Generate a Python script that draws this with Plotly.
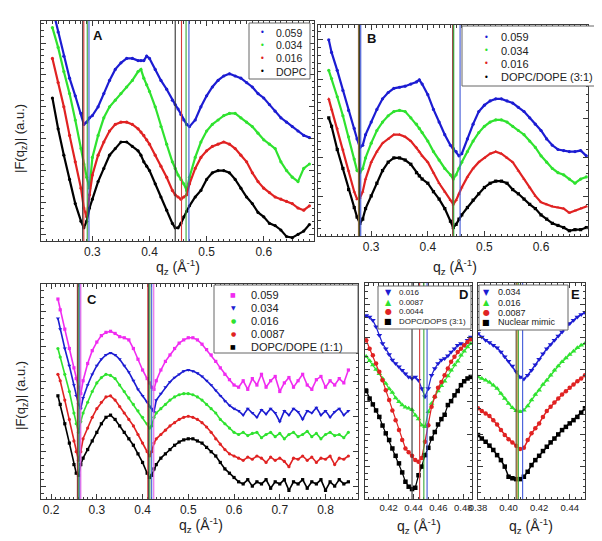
import plotly.graph_objects as go

W, H = 602, 541
FONT = "Liberation Sans, Arial, sans-serif"

# ---------------- data (y in arbitrary units) ----------------
qA = [0.23, 0.24, 0.25, 0.26, 0.27, 0.28, 0.285, 0.29, 0.295, 0.30, 0.31, 0.32, 0.33, 0.34,
      0.35, 0.36, 0.37, 0.38, 0.385, 0.39, 0.395, 0.40, 0.41, 0.42, 0.43, 0.44, 0.445, 0.45,
      0.455, 0.46, 0.465, 0.47, 0.48, 0.49, 0.50, 0.51, 0.52, 0.53, 0.54, 0.55, 0.56, 0.57,
      0.58, 0.59, 0.60, 0.61, 0.62, 0.63, 0.64, 0.65, 0.66, 0.67, 0.68]
A_059 = [106, 95, 84, 74, 66, 58, 53, 54, 56, 57, 61, 67, 73, 78, 81, 83, 83, 82, 82, 82, 84,
         83, 78, 73, 69, 64, 62, 60, 57.5, 55, 53, 52, 55, 61, 66, 70, 73, 75, 76, 75, 74, 72,
         70, 67, 65, 62, 59, 56, 54, 52, 50, 48, 47]
A_034 = [97, 88, 77, 67, 55, 42, 35, 29, 24, 38, 48, 56, 61, 64, 67, 70, 73, 77, 78, 74, 71,
         68, 61, 52, 44, 36, 33, 30, 28, 26, 23, 29, 38, 45, 50, 53, 55, 57, 58, 58, 56, 54,
         52, 49, 46, 44, 42, 36, 32, 29, 27, 33, 35]
A_016 = [83, 72, 61, 48, 36, 24, 15, 11, 21, 30, 39, 45, 50, 53, 54, 54, 53, 51, 49.5, 48, 46,
         44, 39, 34, 29, 23, 21, 20, 19, 20, 21, 26, 33, 38, 41, 43, 44, 45, 44, 42, 39, 36,
         31, 27, 24, 22, 20, 19, 18, 17, 15, 14, 16]
A_DOPC = [65, 51, 39, 28, 17, 9, 6, 9, 15, 19, 27, 33, 39, 42, 45, 45, 43, 41, 39, 36, 34,
          32, 26, 20, 14, 8, 6, 6, 8, 11, 13.5, 16, 20, 23, 28, 31, 32, 32, 31, 28, 24, 20,
          17, 13, 11, 8, 7, 5, 2, 1.5, 3, 4.5, 7.5]

qB = [0.225, 0.23, 0.24, 0.25, 0.26, 0.27, 0.275, 0.28, 0.285, 0.29, 0.30, 0.31, 0.32, 0.33,
      0.34, 0.35, 0.36, 0.37, 0.38, 0.385, 0.39, 0.40, 0.41, 0.42, 0.43, 0.44, 0.445, 0.45,
      0.455, 0.46, 0.47, 0.48, 0.49, 0.50, 0.51, 0.52, 0.53, 0.54, 0.55, 0.56, 0.57, 0.58,
      0.59, 0.60, 0.61, 0.62, 0.63, 0.64, 0.65, 0.66, 0.67, 0.68]
B_059 = [93, 87, 78.5, 69, 59.5, 51, 46, 42, 43, 48, 54, 60, 65, 68, 70, 70.5, 71, 72, 73, 74,
         72, 67, 60, 54, 48, 43, 41.5, 40, 38, 39, 46, 53, 59, 62, 64, 65, 65, 64, 63, 61, 59,
         56, 53, 50, 46, 43, 41, 40.5, 40, 40, 40.5, 38]
B_034 = [78.5, 74.6, 66, 57, 47, 36.5, 31, 30, 32, 37, 44, 50, 54, 57, 59, 59.5, 59, 56, 53,
         51, 49, 45, 40, 36, 32, 29, 27, 29, 32, 35, 40, 45, 49, 52, 54, 55, 55, 54, 52, 50,
         48, 45, 42, 38, 35, 32, 30, 29, 27, 25, 27, 28]
B_016 = [65, 60, 51, 41, 31, 21, 17.5, 18, 21, 27, 35, 40, 44, 46, 48, 48, 47, 45, 42, 40, 38,
         35, 30, 25, 21, 17, 15, 17, 20, 23, 28, 32, 35, 37, 39, 40, 39, 37, 35, 31, 27, 23,
         19, 16, 15, 14, 13.5, 13, 11, 12, 13, 14]
B_PCPE31 = [56, 52, 41, 32, 22, 13.5, 9, 6, 8, 13, 19, 25, 31, 35, 37, 37, 36, 34, 30, 28.5,
            27, 25, 21, 17.5, 13, 7, 4, 5.5, 8, 10, 13.5, 17, 20, 23, 25, 26, 26, 25, 22, 20,
            17.5, 15, 13, 10, 8, 6, 5, 4, 2.5, 3, 3, 4]

qC = [0.215, 0.22, 0.23, 0.24, 0.25, 0.255, 0.26, 0.265, 0.27, 0.28, 0.29, 0.30, 0.31, 0.32,
      0.33, 0.34, 0.35, 0.36, 0.37, 0.38, 0.39, 0.40, 0.41, 0.415, 0.42, 0.425, 0.43, 0.44,
      0.45, 0.46, 0.47, 0.48, 0.49, 0.50, 0.51, 0.52, 0.53, 0.54, 0.55, 0.56, 0.57, 0.58,
      0.59, 0.60, 0.61, 0.62, 0.63, 0.64, 0.65, 0.66, 0.67, 0.68, 0.69, 0.70, 0.71, 0.72,
      0.73, 0.74, 0.75, 0.76, 0.77, 0.78, 0.79, 0.80, 0.81, 0.82, 0.83, 0.84, 0.85]
C_059 = [93, 88, 79, 70, 61, 56, 52, 49, 55, 63, 69, 73, 76, 77.5, 78, 77, 75.5, 75, 74, 70,
         65, 60, 56, 54, 52, 51, 55, 60, 64, 67, 70, 72.5, 74, 75, 75, 74, 72, 69.5, 67, 64,
         61, 58, 55.5, 53, 52, 55, 51, 56, 53, 58, 52, 55, 57, 50, 54, 56.5, 52, 55, 58, 53,
         51, 55.5, 57, 52, 55, 53, 56, 54, 60]
C_034 = [84, 79, 70, 62, 53, 48, 44, 42, 47, 53, 58, 62, 65, 67, 68, 67, 65, 62, 59, 55, 51,
         48, 45, 43, 42, 40.5, 46, 49, 52, 54.5, 56.5, 58, 59.5, 60, 59.5, 58.5, 57, 55, 53,
         50.5, 48, 45.5, 43.5, 42, 41, 39, 42, 40, 38, 41.5, 39.5, 42, 40, 36, 41, 39, 42,
         40.5, 37, 41, 40, 42.5, 39, 41, 38, 40.5, 42, 39, 41]
C_016 = [70, 66, 58, 50, 40, 35, 31, 36, 40, 45, 50, 54, 56.5, 58, 57.5, 56, 53, 50, 47, 44,
         41, 38, 35, 33, 34, 38, 40, 42, 44, 46, 47.5, 48.5, 49, 49, 48.5, 47.5, 46, 44, 42,
         40, 37, 35, 33, 31, 30, 31, 29.5, 30.5, 31, 28.5, 30, 31, 29, 30.5, 28, 30, 31, 29,
         30, 31.5, 29, 30.5, 28, 30, 31, 29.5, 30, 28.5, 31]
C_0087 = [58, 55, 46, 37, 27, 22, 18, 22, 28, 33, 38, 42, 45, 47.5, 48, 46, 43, 40, 37, 34,
          30, 26, 22, 20, 22, 26, 28, 30, 32, 34, 35.5, 37, 38, 38.5, 38, 37, 35.5, 33.5, 31,
          28, 25.5, 23, 21, 20, 19, 18, 19.5, 18.5, 20, 19, 17, 19.5, 18, 19, 17.5, 15, 19,
          18.5, 20, 18, 19.5, 17, 19, 18.5, 20, 16, 19, 18.5, 20]
C_PCPE11 = [48, 44, 35, 26, 16, 12, 11, 16, 19, 23, 27, 31, 35, 38, 39, 37, 34, 31, 28, 25,
            21, 17, 12, 10, 11, 14, 16, 19, 21, 23, 25, 26.5, 27.5, 28, 28, 27, 26, 24, 22,
            20, 17, 14, 12, 10, 8, 7, 9, 6, 8, 7, 9, 5, 8, 7, 9, 4, 8, 7, 9, 5, 8, 7, 9, 4, 8,
            6, 9, 7, 8]

qD = [0.4020, 0.4047, 0.4073, 0.4099, 0.4125, 0.4151, 0.4177, 0.4204, 0.4230, 0.4256, 0.4283,
      0.4309, 0.4335, 0.4361, 0.4388, 0.4414, 0.4440, 0.4466, 0.4492, 0.4519, 0.4545, 0.4571,
      0.4597, 0.4624, 0.4650, 0.4676, 0.4702, 0.4729, 0.4755, 0.4781, 0.4807, 0.4834, 0.4860]
D_016 = [85, 84.3, 82.7, 79.7, 75.8, 72, 69.6, 66.9, 64.3, 62.7, 61.2, 59.6, 58, 56.5, 55.8,
         56.5, 55, 51.2, 47.3, 51.2, 57.3, 60.4, 62.7, 64.3, 65, 66.3, 68.1, 69.6, 71.2, 72,
         71.2, 73.5, 75]
D_0087 = [66, 64, 62, 60, 58, 55.8, 53.5, 51, 49.3, 46.8, 45, 43.5, 42.5, 42, 41.3, 38.8, 37,
          34.2, 33.4, 40.4, 44.2, 47.3, 50, 52.4, 54.5, 57, 59.6, 62, 63.8, 66.6, 68.4, 70.4, 72]
D_0044 = [73.5, 69.6, 66.5, 62.7, 58.9, 55, 50.4, 45.8, 41, 36.5, 32, 27.3, 23.4, 21.6, 20,
          18, 17.3, 19, 26.5, 34.2, 42.7, 47.3, 51.5, 54.2, 57.3, 60.4, 63.5, 65.8, 68, 69.6,
          71.2, 72.7, 74]
D_PCPS31 = [50, 46.5, 43.8, 41, 38, 34, 30.4, 27.3, 23.4, 20, 16.5, 12.3, 8, 5.7, 4.6, 5.2,
            11, 15, 20.3, 23.7, 28, 31, 34.5, 37, 39, 43.5, 45.3, 48, 50, 52.7, 54.5, 55.8, 56.5]

qE = [0.38, 0.3825, 0.385, 0.3875, 0.39, 0.3925, 0.395, 0.3975, 0.40, 0.4025, 0.405, 0.4075,
      0.41, 0.4125, 0.415, 0.4175, 0.42, 0.4225, 0.425, 0.4275, 0.43, 0.4325, 0.435, 0.4375,
      0.44, 0.4425, 0.445, 0.4475, 0.45]
E_034 = [76.6, 75, 73.5, 72.4, 71.2, 70, 68.1, 65.8, 63.8, 61.6, 58.9, 56.5, 55.5, 57.3, 59.6,
         62.2, 64.7, 67.3, 69.6, 71.5, 73.5, 75.5, 77.3, 79.2, 81.2, 82.7, 84.3, 85.4, 86.3]
E_016 = [56.5, 55.8, 55, 54, 52.7, 51.2, 48.8, 46.5, 44.2, 42.2, 40.8, 40.4, 41.1, 43.1, 45.8,
         48.4, 50.4, 53, 55, 57.3, 59.6, 61.6, 63.5, 65.3, 66.9, 68.4, 70, 71.2, 72]
E_0087 = [42, 40.7, 39.6, 38.4, 36.5, 34.5, 31.9, 29.6, 27.7, 26.2, 24.7, 23.1, 23.7, 27.3,
          30.4, 32.7, 35, 38, 40.7, 42.7, 44.7, 46.5, 48.4, 49.9, 51.5, 53, 54.5, 55.8, 57.3]
E_NUC = [29.6, 28, 26.5, 24.7, 22.7, 20.3, 18, 15, 10.3, 9.6, 9.2, 9.2, 10.3, 12.6, 15.7, 18,
         20, 22.2, 24.2, 26.2, 28, 29.9, 31.9, 33.4, 35, 36.5, 38, 40, 42]

# positions of the minima marked by vertical lines
minA = [0.283, 0.285, 0.291, 0.294, 0.445, 0.456, 0.464, 0.469]
minB = [0.2775, 0.2785, 0.2795, 0.2815, 0.4440, 0.4448, 0.4458, 0.4570]
minC = [0.2575, 0.2590, 0.2610, 0.2630, 0.2650, 0.4115, 0.4135, 0.4160, 0.4200, 0.4245]
minD = [0.4388, 0.4449, 0.4483, 0.4509]
minE = [0.4050, 0.4056, 0.4064, 0.4092]

legA = ["0.059", "0.034", "0.016", "DOPC"]
legB = ["0.059", "0.034", "0.016", "DOPC/DOPE (3:1)"]
legC = ["0.059", "0.034", "0.016", "0.0087", "DOPC/DOPE (1:1)"]
legD = ["0.016", "0.0087", "0.0044", "DOPC/DOPS (3:1)"]
legE = ["0.034", "0.016", "0.0087", "Nuclear mimic"]

# ---------------- styling ----------------
BLUE, GREEN, RED, BLACK, MAG = "#1c1cd2", "#2fe22f", "#e02222", "#000000", "#f02cf0"
LBLACK, LRED, LGREEN, LBLUE, LMAG = "#333333", "#d83a3a", "#3aa83a", "#4058d8", "#e860e8"

for arr, q in [(A_059, qA), (A_034, qA), (A_016, qA), (A_DOPC, qA),
               (B_059, qB), (B_034, qB), (B_016, qB), (B_PCPE31, qB),
               (C_059, qC), (C_034, qC), (C_016, qC), (C_0087, qC), (C_PCPE11, qC),
               (D_016, qD), (D_0087, qD), (D_0044, qD), (D_PCPS31, qD),
               (E_034, qE), (E_016, qE), (E_0087, qE), (E_NUC, qE)]:
    assert len(arr) == len(q), (len(arr), len(q))

fig = go.Figure()


def px_x(p):
    return p / W


def px_y(p):
    return 1 - p / H


def curve(ax, q, y, color, symbol="circle", size=3.2, lw=2.2):
    fig.add_trace(go.Scatter(
        x=q, y=y, mode="lines+markers", xaxis="x" + ax, yaxis="y" + ax,
        line=dict(color=color, width=lw),
        marker=dict(color=color, size=size, symbol=symbol, line=dict(width=0)),
        showlegend=False, hoverinfo="skip"))


curve("", qA, A_059, BLUE)
curve("", qA, A_034, GREEN)
curve("", qA, A_016, RED)
curve("", qA, A_DOPC, BLACK)

curve("2", qB, B_059, BLUE)
curve("2", qB, B_034, GREEN)
curve("2", qB, B_016, RED, "triangle-up")
curve("2", qB, B_PCPE31, BLACK, "square")

curve("3", qC, C_059, MAG, "square", 3.2, 1.6)
curve("3", qC, C_034, BLUE, "triangle-down", 3.6, 1.6)
curve("3", qC, C_016, GREEN, "circle", 3.2, 1.6)
curve("3", qC, C_0087, RED, "circle", 3.2, 1.6)
curve("3", qC, C_PCPE11, BLACK, "square", 3.2, 1.6)

curve("4", qD, D_016, BLUE, "triangle-down", 5, 1.2)
curve("4", qD, D_0087, GREEN, "triangle-up", 5, 1.2)
curve("4", qD, D_0044, RED, "circle", 4.5, 1.2)
curve("4", qD, D_PCPS31, BLACK, "square", 4.5, 1.2)

curve("5", qE, E_034, BLUE, "triangle-down", 5, 1.5)
curve("5", qE, E_016, GREEN, "triangle-up", 5, 1.5)
curve("5", qE, E_0087, RED, "circle", 4.5, 1.5)
curve("5", qE, E_NUC, BLACK, "square", 4.5, 1.5)

# ---------------- axes ----------------
FRAME = "#3a3a3a"


def xaxis(px0, px1, rng, dtick, mdtick, fmt, anchor, fsize):
    return dict(domain=[px_x(px0), px_x(px1)], anchor=anchor, range=rng,
                tickmode="linear", tick0=0, dtick=dtick, tickformat=fmt,
                ticks="inside", ticklen=5, tickwidth=1, tickcolor=FRAME,
                minor=dict(ticks="inside", ticklen=2.5, dtick=mdtick, tick0=0, tickcolor=FRAME),
                showline=True, linecolor=FRAME, linewidth=1, mirror="allticks",
                showgrid=False, zeroline=False, automargin=False,
                tickfont=dict(family=FONT, size=fsize, color="#222"))


def yaxis(py0, py1, tick0, dtick, anchor):
    return dict(domain=[px_y(py1), px_y(py0)], anchor=anchor, range=[0, 100],
                tickmode="linear", tick0=tick0, dtick=dtick, showticklabels=False,
                ticks="inside", ticklen=5, tickwidth=1, tickcolor=FRAME,
                minor=dict(ticks="inside", ticklen=2.5, dtick=dtick / 5, tick0=tick0, tickcolor=FRAME),
                showline=True, linecolor=FRAME, linewidth=1, mirror="allticks",
                showgrid=False, zeroline=False, automargin=False)


fig.update_layout(
    width=W, height=H, margin=dict(l=0, r=0, t=0, b=0),
    paper_bgcolor="white", plot_bgcolor="white", showlegend=False,
    font=dict(family=FONT, color="#222"),
    xaxis=xaxis(33, 306, [0.21, 0.688], 0.1, 0.01, ".1f", "y", 12),
    yaxis=yaxis(13, 233, 3, 14.5, "x"),
    xaxis2=xaxis(310, 580, [0.206, 0.683], 0.1, 0.01, ".1f", "y2", 12),
    yaxis2=yaxis(17, 228, 0, 18.6, "x2"),
    xaxis3=xaxis(33, 350, [0.178, 0.871], 0.1, 0.01, ".1f", "y3", 12),
    yaxis3=yaxis(276, 491, 5.7, 16.3, "x3"),
    xaxis4=xaxis(357, 464, [0.401, 0.487], 0.02, 0.004, ".2f", "y4", 9.5),
    yaxis4=yaxis(275, 491, 0, 15, "x4"),
    xaxis5=xaxis(470, 577, [0.38, 0.45], 0.02, 0.004, ".2f", "y5", 9.5),
    yaxis5=yaxis(275, 491, 0, 15, "x5"),
)

shapes = []
annots = []


def vlines(ax, qs, cols):
    for q, c in zip(qs, cols):
        shapes.append(dict(type="line", xref="x" + ax, yref="y" + ax + " domain",
                           x0=q, x1=q, y0=0, y1=1, layer="above",
                           line=dict(color=c, width=1.1)))


vlines("", minA, [LBLACK, LRED, LGREEN, LBLUE, LBLACK, LRED, LGREEN, LBLUE])
vlines("2", minB, [LRED, LGREEN, LBLACK, LBLUE, LRED, LBLACK, LGREEN, LBLUE])
vlines("3", minC, [LRED, LBLACK, LGREEN, LBLUE, LMAG, LRED, LBLACK, LGREEN, LBLUE, LMAG])
vlines("4", minD, [LBLACK, LRED, LGREEN, LBLUE])
vlines("5", minE, [LBLACK, "#d8902a", LGREEN, LBLUE])


def legend(box, rows_y, mx, tx, labels, glyphs, colors, fsize, gsize):
    x0, y0, x1, y1 = box
    shapes.append(dict(type="rect", xref="paper", yref="paper", layer="above",
                       x0=px_x(x0), x1=px_x(x1), y0=px_y(y1), y1=px_y(y0),
                       fillcolor="white", line=dict(color="#666", width=1)))
    for yy, lab, g, c in zip(rows_y, labels, glyphs, colors):
        annots.append(dict(x=px_x(mx), y=px_y(yy), xref="paper", yref="paper",
                           text=g, showarrow=False, xanchor="center", yanchor="middle",
                           font=dict(family="DejaVu Sans", size=gsize, color=c)))
        annots.append(dict(x=px_x(tx), y=px_y(yy), xref="paper", yref="paper",
                           text=lab, showarrow=False, xanchor="left", yanchor="middle",
                           font=dict(family=FONT, size=fsize, color="#222")))


legend((241, 15, 302, 71), [24.5, 37.5, 50.5, 63.5], 254, 266, legA,
       ["•"] * 4, [BLUE, GREEN, RED, BLACK], 10.5, 8)
legend((454, 18, 592, 78), [29, 42.5, 56, 69.5], 478, 491, legB,
       ["•"] * 4, [BLUE, GREEN, RED, BLACK], 11, 8)
legend((206, 277, 350, 345), [286.5, 299.5, 312.5, 325.5, 338.5], 225, 241, legC,
       ["■", "▼", "●", "●", "■"], [MAG, BLUE, GREEN, RED, BLACK], 11, 6)
legend((370, 278, 463, 321), [284, 294, 303.5, 313], 380, 389, legD,
       ["▼", "▲", "●", "■"], [BLUE, GREEN, RED, BLACK], 8, 8)
legend((471, 277, 560, 322), [284, 294.5, 304.5, 314], 478, 488, legE,
       ["▼", "▲", "●", "■"], [BLUE, GREEN, RED, BLACK], 9, 8)

# panel letters
for lab, x, y in [("A", 90, 28), ("B", 363, 31), ("C", 84, 291), ("D", 455, 286), ("E", 567, 286)]:
    annots.append(dict(x=px_x(x), y=px_y(y), xref="paper", yref="paper", text="<b>%s</b>" % lab,
                       showarrow=False, xanchor="center", yanchor="middle",
                       font=dict(family=FONT, size=13, color="#111")))

# axis titles
XT = "q<sub>z</sub> (Å<sup>-1</sup>)"
for x, y in [(170, 259), (447, 259), (193, 517), (411, 518), (523, 518)]:
    annots.append(dict(x=px_x(x), y=px_y(y), xref="paper", yref="paper", text=XT,
                       showarrow=False, xanchor="center", yanchor="middle",
                       font=dict(family=FONT, size=14, color="#222")))
YT = "|F(q<sub>z</sub>)| (a.u.)"
for y in [131, 388]:
    annots.append(dict(x=px_x(13), y=px_y(y), xref="paper", yref="paper", text=YT,
                       showarrow=False, xanchor="center", yanchor="middle", textangle=-90,
                       font=dict(family=FONT, size=13, color="#222")))

fig.update_layout(shapes=shapes, annotations=annots)
fig.write_html("out.html")
